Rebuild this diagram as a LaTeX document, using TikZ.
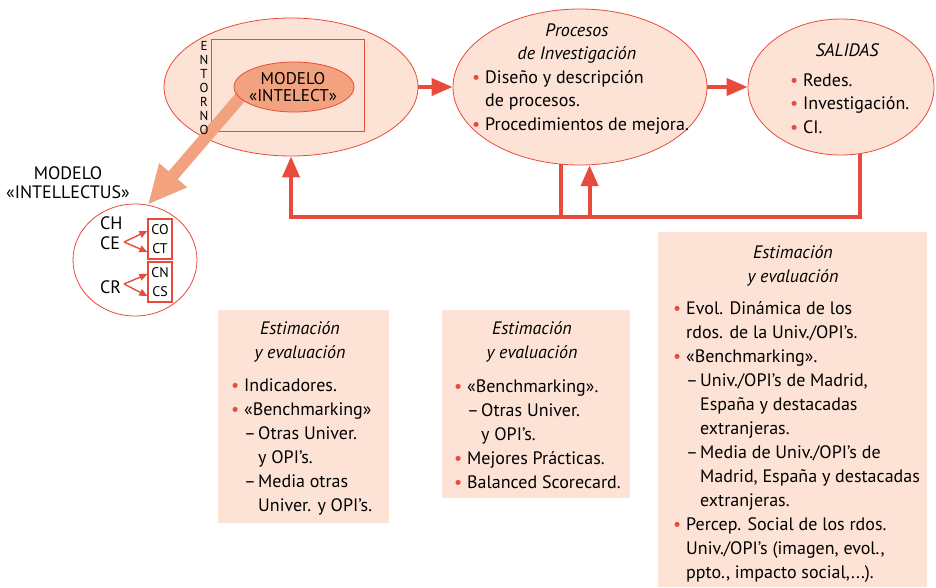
\documentclass[tikz,border=0pt]{standalone}
\usepackage{fontspec}
\setmainfont{PT Sans}
\usetikzlibrary{arrows.meta,shapes.geometric,calc}
\definecolor{rd}{HTML}{E84B3C}
\definecolor{pch}{HTML}{FDE3D5}
\definecolor{slm}{HTML}{F2A27E}
\newcommand\bu{\makebox[13pt][l]{\textcolor{rd}{•}}}
\newcommand\ii{\hspace*{13pt}}
\newcommand\da{\ii\makebox[14pt][l]{–}}
\newcommand\dd{\hspace*{27pt}}
\begin{document}
\begin{tikzpicture}[x=1pt,y=-1pt,
  txt/.style={font=\fontsize{18}{24}\selectfont, inner sep=0pt, align=left, anchor=base west},
  ttl/.style={font=\fontsize{18}{24}\selectfont\itshape, inner sep=0pt, align=center, anchor=base},
  elp/.style={ellipse, draw=rd, fill=pch, line width=0.8pt, inner sep=0pt},
  fb/.style={draw=rd, line width=4pt},
  fbarr/.style={fb, -{Triangle[length=21pt,width=17pt]}},
  panel/.style={fill=pch, draw=none, inner sep=0pt}
]
\useasboundingbox (0,0) rectangle (936,587);
% panels
\node[panel, minimum width=171, minimum height=213] (pA) at (303.5,416.5) {};
\node[panel, minimum width=188, minimum height=188] (pB) at (536,404) {};
\node[panel, minimum width=269, minimum height=355] (pC) at (792.5,409.5) {};
% ellipses
\node[elp, minimum width=254, minimum height=138] (e1) at (291,87) {};
\node[elp, minimum width=254, minimum height=156] (e2) at (580,87) {};
\node[elp, minimum width=186, minimum height=136] (e3) at (841,87) {};
\coordinate (fbrow) at (0,217);
% feedback connectors
\draw[fbarr] (e3.-74) -- (e3.-74 |- fbrow) -| (e1.south);
\draw[fbarr] (e2.-104.6) -- (e2.-104.6 |- fbrow) -| (e2.-83.4);
% forward arrows
\draw[fbarr] (e1.east) -- (e2.west);
\draw[fbarr] (e2.east) -- (e3.west);
% inside e1
\node[draw=rd, line width=0.8pt, minimum width=153, minimum height=92, inner sep=0pt] (rect) at (287.5,85) {};
% model intellectus circle
\node[ellipse, draw=rd, line width=0.8pt, fill=white, minimum width=124, minimum height=112, inner sep=0pt] (ci) at (135,260) {};
\coordinate (bstart) at (250,86);
\draw[slm, line width=12pt, -{Triangle[length=39pt,width=34pt]}] (bstart) -- (ci.77);
\node[font=\fontsize{13}{14}\selectfont, inner sep=0pt, align=center] (ent) at (204,88) {E\\N\\T\\O\\R\\N\\O};
\node[ellipse, draw=rd, fill=slm, line width=0.8pt, minimum width=120, minimum height=50, inner sep=0pt] (inner) at (294,87) {};
\node[font=\fontsize{17}{17}\selectfont, inner sep=0pt, align=center, anchor=base] (innert) at (293,101) {MODELO\\«INTELECT»};
% e2 text
\node[ttl, font=\fontsize{18}{23.5}\selectfont\itshape] (t2) at (577,59.5) {Procesos\\de Investigación};
\node[txt, font=\fontsize{18}{23.5}\selectfont] (l2) at (472,130) {\bu Diseño y descripción\\\ii de procesos.\\\bu Procedimientos de mejora.};
% e3 text
\node[ttl] (t3) at (847,56) {SALIDAS};
\node[txt, font=\fontsize{18}{23.5}\selectfont] (l3) at (790,133) {\bu Redes.\\\bu Investigación.\\\bu CI.};
% intellectus label and content
\node[font=\fontsize{18}{19}\selectfont, inner sep=0pt, align=center, anchor=base] (il) at (68,198) {MODELO\\«INTELLECTUS»};
\node[font=\fontsize{18}{20}\selectfont, inner sep=0pt, anchor=base west] (ch) at (100,229) {CH};
\node[font=\fontsize{18}{20}\selectfont, inner sep=0pt, anchor=base west] (ce) at (100,249) {CE};
\node[font=\fontsize{18}{20}\selectfont, inner sep=0pt, anchor=base west] (cr) at (100,293) {CR};
\node[draw=rd, line width=1.2pt, minimum width=24, minimum height=40, inner sep=0pt] (b1) at (160,239) {};
\node[draw=rd, line width=1.2pt, minimum width=24, minimum height=40, inner sep=0pt] (b2) at (160,282) {};
\node[font=\fontsize{14}{19}\selectfont, inner sep=0pt, align=center] at (b1) {CO\\CT};
\node[font=\fontsize{14}{19}\selectfont, inner sep=0pt, align=center] at (b2) {CN\\CS};
\coordinate (ceo) at (124,242);
\coordinate (cro) at (124,284);
\draw[rd, line width=1.4pt, -{Triangle[length=8pt,width=7pt]}] (ceo) -- (b1.west |- 0,231);
\draw[rd, line width=1.4pt, -{Triangle[length=8pt,width=7pt]}] (ceo) -- (b1.west |- 0,252);
\draw[rd, line width=1.4pt, -{Triangle[length=8pt,width=7pt]}] (cro) -- (b2.west |- 0,274);
\draw[rd, line width=1.4pt, -{Triangle[length=8pt,width=7pt]}] (cro) -- (b2.west |- 0,296);
% panel A
\node[ttl] (tA) at (300,358) {Estimación\\y evaluación};
\node[txt] (lA) at (231,511) {\bu Indicadores.\\\bu «Benchmarking»\\\da Otras Univer.\\\dd y OPI’s.\\\da Media otras\\\dd Univer. y OPI’s.};
% panel B
\node[ttl] (tB) at (532,358) {Estimación\\y evaluación};
\node[txt] (lB) at (454,488) {\bu «Benchmarking».\\\da Otras Univer.\\\dd y OPI’s.\\\bu Mejores Prácticas.\\\bu Balanced Scorecard.};
% panel C
\node[ttl] (tC) at (793,282) {Estimación\\y evaluación};
\node[txt] (lC) at (673,578) {\bu Evol. Dinámica de los\\\ii rdos. de la Univ./OPI’s.\\\bu «Benchmarking».\\\da Univ./OPI’s de Madrid,\\\dd España y destacadas\\\dd extranjeras.\\\da Media de Univ./OPI’s de\\\dd Madrid, España y destacadas\\\dd extranjeras.\\\bu Percep. Social de los rdos.\\\ii Univ./OPI’s (imagen, evol.,\\\ii ppto., impacto social,...).};
\end{tikzpicture}
\end{document}
